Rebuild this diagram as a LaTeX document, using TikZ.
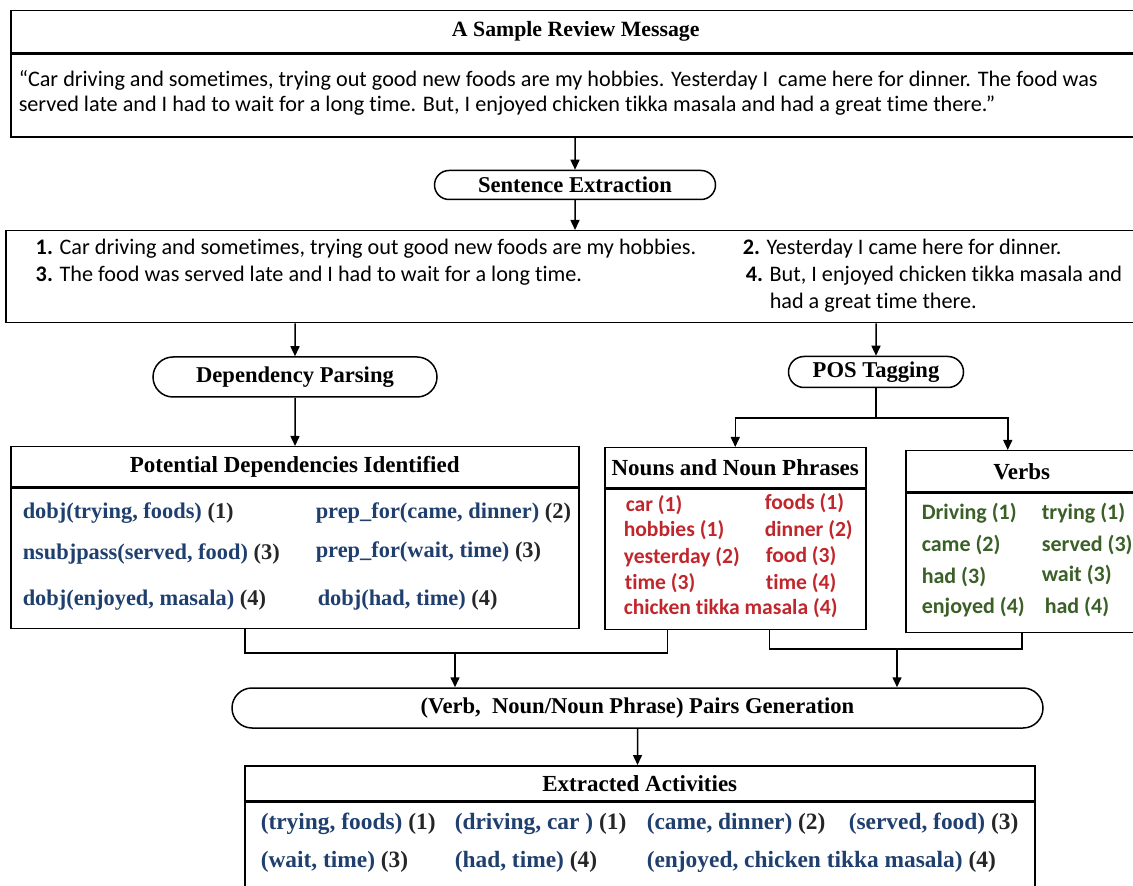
\documentclass[tikz,border=0pt]{standalone}
\usepackage{fontspec}
\setmainfont{Liberation Serif}
\newfontfamily\calfont[Ligatures=NoCommon]{Carlito}
\usetikzlibrary{positioning}
\usetikzlibrary{arrows.meta}
\usetikzlibrary{shapes.misc}

\definecolor{relblue}{HTML}{1F3F6E}
\definecolor{nounred}{HTML}{C0272D}
\definecolor{verbgreen}{HTML}{3A5F27}
\definecolor{numgray}{HTML}{262626}

\tikzset{
  panel/.style={draw, line width=0.75pt, inner sep=0pt, anchor=north west},
  stage/.style={draw, rounded rectangle, line width=0.75pt, inner sep=0pt, font=\bfseries\fontsize{11.3}{13}\selectfont},
  heading/.style={font=\bfseries\fontsize{11.5}{13}\selectfont},
  plain/.style={anchor=west, inner sep=0pt, font=\calfont\fontsize{11.1}{13}\selectfont},
  relation/.style={anchor=west, inner sep=0pt, text=relblue, font=\bfseries\fontsize{11.2}{13}\selectfont},
  activity/.style={relation, font=\bfseries\fontsize{11.7}{13}\selectfont},
  noun/.style={anchor=west, inner sep=0pt, text=nounred, font=\calfont\bfseries\fontsize{10.8}{12}\selectfont},
  verb/.style={anchor=west, inner sep=0pt, text=verbgreen, font=\calfont\bfseries\fontsize{11}{12}\selectfont},
}
\newcommand{\sid}[1]{\textcolor{numgray}{#1}}

\begin{document}
\begin{tikzpicture}[x=0.5pt, y=-0.5pt, line width=0.75pt, >={Triangle[length=5pt, width=4.5pt]}]
  \useasboundingbox (0,0) rectangle (1133,886);

  % review message
  \node[panel, heading, font=\bfseries\fontsize{10.9}{13}\selectfont, minimum width=565pt, minimum height=21pt] (revhead) at (10,10) {A Sample Review Message};
  \node[panel, below=0pt of revhead, minimum width=565pt, minimum height=41.5pt] (revbody) {};
  \node[plain] (msg1) at (18,80) {“Car driving and sometimes, trying out good new foods are my hobbies. Yesterday I\ \ came here for dinner. The food was};
  \node[plain] (msg2) at (18,106) {served late and I had to wait for a long time. But, I enjoyed chicken tikka masala and had a great time there.”};

  \node[stage, minimum width=140.5pt, minimum height=14.5pt] (sentext) at (575,185) {Sentence Extraction};

  % sentences
  \node[panel, minimum width=567.5pt, minimum height=46pt] (sentbox) at (5,230) {};
  \node[plain] (s1) at (35,249) {\textbf{1.} Car driving and sometimes, trying out good new foods are my hobbies.};
  \node[plain] (s2) at (742,249) {\textbf{2.} Yesterday I came here for dinner.};
  \node[plain] (s3) at (35,276) {\textbf{3.} The food was served late and I had to wait for a long time.};
  \node[plain] (s4) at (745,276) {\textbf{4.} But, I enjoyed chicken tikka masala and};
  \node[plain] (s4b) at (769,303) {had a great time there.};

  \node[stage, minimum width=142pt, minimum height=20pt] (depparse) at (295,377) {Dependency Parsing};
  \node[stage, minimum width=87.5pt, minimum height=15.5pt] (postag) at (876,372) {POS Tagging};

  % dependencies
  \node[panel, heading, minimum width=284pt, minimum height=20pt] (pothead) at (10,446) {Potential Dependencies Identified};
  \node[panel, below=0pt of pothead, minimum width=284pt, minimum height=70pt] (potbody) {};
  \node[relation] (r1) at (22,513) {dobj(trying, foods) \sid{(1)}};
  \node[relation] (r2) at (315,513) {prep\_for(came, dinner) \sid{(2)}};
  \node[relation] (r3) at (22,554) {nsubjpass(served, food) \sid{(3)}};
  \node[relation] (r4) at (315,552) {prep\_for(wait, time) \sid{(3)}};
  \node[relation] (r5) at (22,600) {dobj(enjoyed, masala) \sid{(4)}};
  \node[relation] (r6) at (317,600) {dobj(had, time) \sid{(4)}};

  % nouns
  \node[panel, heading, minimum width=130.5pt, minimum height=20pt] (nounhead) at (604,447) {Nouns and Noun Phrases};
  \node[panel, below=0pt of nounhead, minimum width=130.5pt, minimum height=70pt] (nounbody) {};
  \node[noun] (n1) at (625,505) {car (1)};
  \node[noun] (n2) at (764,503) {foods (1)};
  \node[noun] (n3) at (623,530) {hobbies (1)};
  \node[noun] (n4) at (764,530) {dinner (2)};
  \node[noun] (n5) at (623,557) {yesterday (2)};
  \node[noun] (n6) at (765,556) {food (3)};
  \node[noun] (n7) at (624,583) {time (3)};
  \node[noun] (n8) at (765,583) {time (4)};
  \node[noun] (n9) at (623,608) {chicken tikka masala (4)};

  % verbs
  \node[panel, heading, minimum width=116pt, minimum height=20.5pt] (verbhead) at (905,450) {Verbs};
  \node[panel, below=0pt of verbhead, minimum width=116pt, minimum height=69.5pt] (verbbody) {};
  \node[verb] (v1) at (921,513) {Driving (1)};
  \node[verb] (v2) at (1041,513) {trying (1)};
  \node[verb] (v3) at (921,545) {came (2)};
  \node[verb] (v4) at (1041,545) {served (3)};
  \node[verb] (v5) at (921,577) {had (3)};
  \node[verb] (v6) at (1041,575) {wait (3)};
  \node[verb] (v7) at (921,607) {enjoyed (4)};
  \node[verb] (v8) at (1044,607) {had (4)};

  \node[stage, minimum width=405.5pt, minimum height=20pt] (pairs) at (637.5,708) {(Verb,\ \ Noun/Noun Phrase) Pairs Generation};

  % extracted activities
  \node[panel, heading, minimum width=395pt, minimum height=17.5pt] (exthead) at (244,765) {Extracted Activities};
  \node[panel, below=0pt of exthead, minimum width=395pt, minimum height=55pt] (extbody) {};
  \node[activity] (a1) at (260,824) {(trying, foods) \sid{(1)}};
  \node[activity] (a2) at (454,824) {(driving, car ) \sid{(1)}};
  \node[activity] (a3) at (646,824) {(came, dinner) \sid{(2)}};
  \node[activity] (a4) at (848,824) {(served, food) \sid{(3)}};
  \node[activity] (a5) at (260,862) {(wait, time) \sid{(3)}};
  \node[activity] (a6) at (454,862) {(had, time) \sid{(4)}};
  \node[activity] (a7) at (646,862) {(enjoyed, chicken tikka masala) \sid{(4)}};

  % connectors
  \coordinate (posfork) at (876,418);
  \coordinate (lbranch) at (455,653);
  \coordinate (rbranch) at (897,649);
  \draw[->] (sentext.north |- revbody.south) -- (sentext);
  \draw[->] (sentext) -- (sentext |- sentbox.north);
  \draw[->] (depparse.north |- sentbox.south) -- (depparse);
  \draw[->] (postag.north |- sentbox.south) -- (postag);
  \draw[->] (depparse) -- (depparse |- pothead.north);
  \draw (postag) -- (posfork);
  \draw[->] (posfork) -| (nounhead);
  \draw[->] (posfork) -| ([xshift=-7pt]verbhead.north);
  \draw ([xshift=-25pt]potbody.south) |- (lbranch) -| ([xshift=-34pt]nounbody.south);
  \draw ([xshift=17pt]nounbody.south) |- (rbranch) -| (verbbody);
  \draw[->] (lbranch) -- (lbranch |- pairs.north);
  \draw[->] (rbranch) -- (rbranch |- pairs.north);
  \draw[->] (pairs) -- (pairs |- exthead.north);
\end{tikzpicture}
\end{document}
